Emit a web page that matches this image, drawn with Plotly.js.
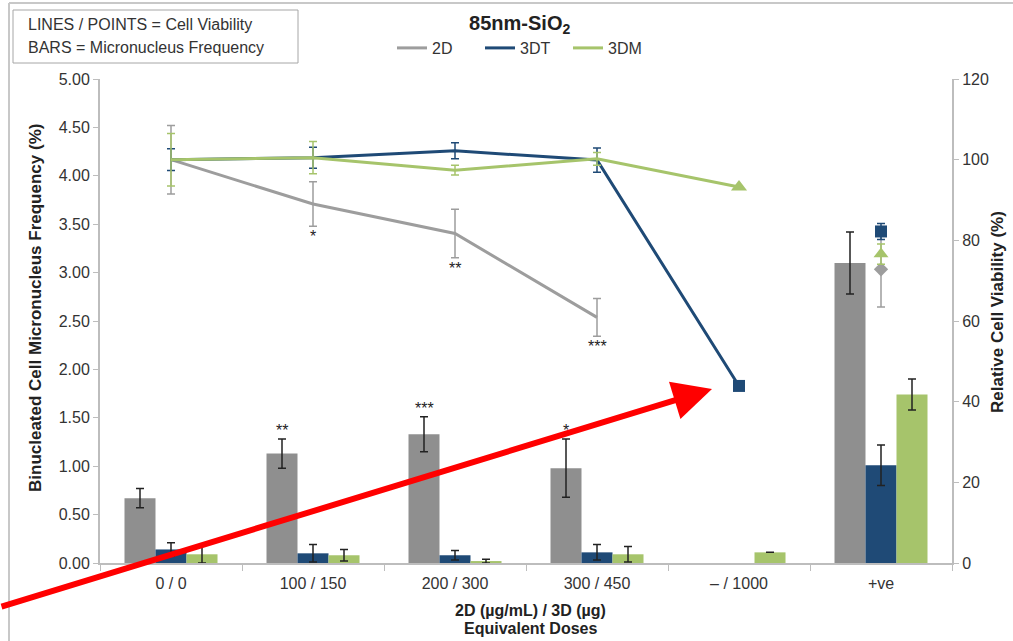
<!DOCTYPE html>
<html>
<head>
<meta charset="utf-8">
<script src="https://cdn.plot.ly/plotly-3.0.1.min.js"></script>
<style>html,body{margin:0;padding:0;background:#fff;}#chart{width:1013px;height:641px;}</style>
</head>
<body>
<div id="chart"></div>
<script>
// ---- Data ----
const categories = ["0 / 0", "100 / 150", "200 / 300", "300 / 450", "– / 1000", "+ve"];

// Bars: micronucleus frequency (%) – left axis
const mn2D      = [0.67, 1.13, 1.33, 0.98, null, 3.10];
const mn2DErr   = [0.10, 0.15, 0.18, 0.30, null, 0.32];
const mn3DT     = [0.14, 0.10, 0.08, 0.11, null, 1.01];
const mn3DTErr  = [0.07, 0.09, 0.05, 0.08, null, 0.21];
const mn3DM     = [0.09, 0.08, 0.02, 0.09, 0.11, 1.74];
const mn3DMErr  = [0.09, 0.06, 0.02, 0.08, 0, 0.16];

// Lines: relative cell viability (%) – right axis (dose categories only)
const lineCats  = ["0 / 0", "100 / 150", "200 / 300", "300 / 450", "– / 1000"];
const via2D     = [100, 89.0, 81.7, 60.9, null];
const via2DErr  = [8.5, 5.5, 6.0, 4.7, null];
const via3DT    = [100, 100.5, 102.2, 99.9, 43.9];
const via3DTErr = [2.7, 2.6, 2.0, 3.0, 0];
const via3DM    = [100, 100.5, 97.4, 100.2, 93.2];
const via3DMErr = [6.5, 4.0, 1.2, 1.6, 0];

// Highest-dose (– / 1000) end points drawn with markers
const endCat    = ["– / 1000"];
const end3DT    = [43.9];
const end3DM    = [93.2];

// Positive control viability points
const posCat    = ["+ve"];
const pos2D     = [72.8];  const pos2DErr  = [9.3];
const pos3DT    = [82.2];  const pos3DTErr = [2.0];
const pos3DM    = [76.6];  const pos3DMErr = [2.5];

// Significance markers
const barStars  = [{cat: 1, txt: "**"}, {cat: 2, txt: "***"}, {cat: 3, txt: "*"}];
const lineStars = [{cat: 1, txt: "*"}, {cat: 2, txt: "**"}, {cat: 3, txt: "***"}];

// Text labels
const keyLines   = ["LINES / POINTS = Cell Viability", "BARS = Micronucleus Frequency"];
const xTitle     = ["2D (µg/mL) / 3D (µg)", "Equivalent Doses"];
const yTitleL    = "Binucleated Cell Micronucleus Frequency (%)";
const yTitleR    = "Relative Cell Viability (%)";

// ---- Styles ----
const cGrayBar = "#8f8f8f", cGrayLine = "#9d9d9d", cBlue = "#1f4a76", cGreen = "#a6c46b";
const FONT = "Liberation Sans, Arial, sans-serif";
const TXT = "#333", DARK = "#222";
// pixel -> paper helpers (plot area: x 100..952, y 79..563)
const PX = p => (p - 100) / 852;
const PY = p => (563 - p) / 484;

function barTrace(y, err, color, name) {
  return {type: "bar", x: categories, y: y, name: name, showlegend: false,
    marker: {color: color, line: {width: 0}}, yaxis: "y", xaxis: "x",
    error_y: {type: "data", array: err, visible: true, color: DARK, thickness: 1.5, width: 4}};
}
function lineTrace(y, err, color, name) {
  return {type: "scatter", mode: "lines", x: lineCats, y: y, name: name, yaxis: "y2",
    line: {color: color, width: 3}, connectgaps: false,
    error_y: {type: "data", array: err, visible: true, color: color, thickness: 1.5, width: 4}};
}
function markTrace(x, y, err, color, sym, size) {
  const t = {type: "scatter", mode: "markers", x: x, y: y, yaxis: "y2", showlegend: false,
    marker: {symbol: sym, size: size, color: color}};
  if (err) t.error_y = {type: "data", array: err, visible: true, color: color, thickness: 1.5, width: 4};
  return t;
}

const traces = [
  barTrace(mn2D, mn2DErr, cGrayBar, "2D bars"),
  barTrace(mn3DT, mn3DTErr, cBlue, "3DT bars"),
  barTrace(mn3DM, mn3DMErr, cGreen, "3DM bars"),
  lineTrace(via2D, via2DErr, cGrayLine, "2D"),
  lineTrace(via3DT, via3DTErr, cBlue, "3DT"),
  lineTrace(via3DM, via3DMErr, cGreen, "3DM"),
  markTrace(endCat, end3DT, null, cBlue, "square", 12),
  markTrace(endCat, end3DM, null, cGreen, "triangle-up", 14),
  markTrace(posCat, pos2D, pos2DErr, cGrayLine, "diamond", 11),
  markTrace(posCat, pos3DM, pos3DMErr, cGreen, "triangle-up", 13),
  markTrace(posCat, pos3DT, pos3DTErr, cBlue, "square", 12)
];

const annotations = [];
const barOffset = -0.2183;
barStars.forEach(s => {
  annotations.push({xref: "x", yref: "y", x: s.cat + barOffset, y: mn2D[s.cat] + mn2DErr[s.cat],
    text: s.txt, showarrow: false, yanchor: "bottom", yshift: -2,
    font: {family: FONT, size: 16, color: DARK}});
});
lineStars.forEach(s => {
  annotations.push({xref: "x", yref: "y2", x: s.cat, y: via2D[s.cat] - via2DErr[s.cat],
    text: s.txt, showarrow: false, yanchor: "top", yshift: 0,
    font: {family: FONT, size: 16, color: DARK}});
});
// axis titles (placed as in the reference)
annotations.push({xref: "paper", yref: "paper", x: PX(35), y: PY(308),
  xanchor: "center", yanchor: "middle", textangle: -90, showarrow: false,
  text: "<b>" + yTitleL + "</b>", font: {family: FONT, size: 17, color: DARK}});
annotations.push({xref: "paper", yref: "paper", x: PX(997), y: PY(312),
  xanchor: "center", yanchor: "middle", textangle: -90, showarrow: false,
  text: "<b>" + yTitleR + "</b>", font: {family: FONT, size: 17, color: DARK}});
xTitle.forEach((t, i) => {
  annotations.push({xref: "paper", yref: "paper", x: PX(530), y: PY(610 + 18 * i),
    xanchor: "center", yanchor: "middle", showarrow: false,
    text: "<b>" + t + "</b>", font: {family: FONT, size: 16, color: DARK}});
});
// key box text
keyLines.forEach((t, i) => {
  annotations.push({xref: "paper", yref: "paper", x: PX(26), y: PY(24 + 24 * i),
    xanchor: "left", yanchor: "middle", showarrow: false,
    text: t, font: {family: FONT, size: 16, color: TXT}});
});
// red arrow overlay
annotations.push({xref: "paper", yref: "paper", x: PX(712), y: PY(389),
  text: "", showarrow: true, axref: "pixel", ayref: "pixel", ax: -730, ay: 218,
  arrowcolor: "#ff0000", arrowwidth: 6, arrowhead: 2, arrowsize: 1.3});

const layout = {
  width: 1013, height: 641,
  margin: {l: 100, r: 61, t: 79, b: 78},
  paper_bgcolor: "#fff", plot_bgcolor: "#fff",
  font: {family: FONT, size: 16, color: TXT},
  title: {text: "<b>85nm-SiO<sub>2</sub></b>", x: 0.513, xanchor: "center", y: 0.964, yanchor: "middle",
    font: {family: FONT, size: 20, color: DARK}},
  barmode: "group", bargap: 0.345, bargroupgap: 0,
  showlegend: true,
  legend: {orientation: "h", x: PX(392), xanchor: "left", y: PY(48), yanchor: "middle",
    entrywidth: 43, entrywidthmode: "pixels",
    font: {family: FONT, size: 16, color: TXT}, bgcolor: "rgba(0,0,0,0)", itemwidth: 30, tracegroupgap: 0},
  xaxis: {type: "category", categoryorder: "array", categoryarray: categories,
    showline: true, linecolor: "#bdbdbd", linewidth: 2, ticks: "outside", tickson: "boundaries",
    ticklen: 6, tickcolor: "#bdbdbd", tickwidth: 1, showgrid: false, zeroline: false,
    ticklabelstandoff: 5,
    tickfont: {family: FONT, size: 16, color: TXT}},
  yaxis: {range: [0, 5], dtick: 0.5, tickformat: ".2f", showline: true, linecolor: "#bdbdbd", linewidth: 2,
    ticks: "outside", ticklen: 5, tickcolor: "#bdbdbd", showgrid: false, zeroline: false,
    tickfont: {family: FONT, size: 16, color: TXT}},
  yaxis2: {range: [0, 120], dtick: 20, overlaying: "y", side: "right", showline: true,
    linecolor: "#bdbdbd", linewidth: 2, ticks: "outside", ticklen: 5, tickcolor: "#bdbdbd",
    showgrid: false, zeroline: false, tickfont: {family: FONT, size: 16, color: TXT}},
  annotations: annotations,
  shapes: [
    {type: "rect", xref: "paper", yref: "paper", x0: PX(13), x1: PX(298), y0: PY(10), y1: PY(63),
      line: {color: "#a6a6a6", width: 1}, fillcolor: "rgba(0,0,0,0)"},
    {type: "line", xref: "paper", yref: "paper", x0: PX(9), x1: PX(1013), y0: PY(3), y1: PY(3),
      line: {color: "#c8c8c8", width: 2}},
    {type: "line", xref: "paper", yref: "paper", x0: PX(9), x1: PX(9), y0: PY(3), y1: PY(641),
      line: {color: "#c8c8c8", width: 2}}
  ]
};

Plotly.newPlot("chart", traces, layout, {displayModeBar: false, staticPlot: true});
</script>
</body>
</html>
